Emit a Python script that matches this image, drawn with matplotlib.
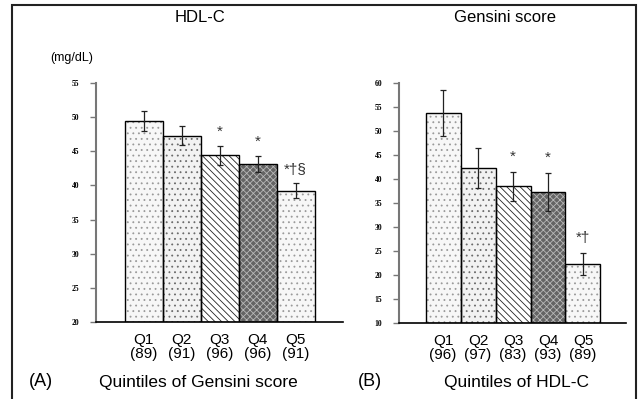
import numpy as np
import matplotlib.pyplot as plt
from matplotlib.patches import Rectangle

plt.rcParams["hatch.linewidth"] = 0.6

quintiles = ["Q1", "Q2", "Q3", "Q4", "Q5"]

# panel A: HDL-C by quintiles of Gensini score
hdl_n = [89, 91, 96, 96, 91]
hdl_mean = [49.4, 47.3, 44.4, 43.1, 39.2]
hdl_err = [1.5, 1.4, 1.4, 1.2, 1.1]
hdl_marks = ["", "", "*", "*", "*†§"]

# panel B: Gensini score by quintiles of HDL-C
gen_n = [96, 97, 83, 93, 89]
gen_mean = [53.8, 42.3, 38.5, 37.3, 22.3]
gen_err = [4.8, 4.2, 3.0, 3.9, 2.3]
gen_marks = ["", "", "*", "*", "*†"]

faces = ["#f7f7f7", "#f2f2f2", "#ffffff", "#646464", "#f7f7f7"]
hatches = ["...", "...", "\\\\\\\\\\", "xxxxx", "..."]
hatch_cols = ["#9a9a9a", "#6a6a6a", "#222222", "#b8b8b8", "#9a9a9a"]

FONT = "Liberation Sans"


def draw_panel(ax, means, errs, ns, marks, ylim, yticks, mark_off):
    x = np.arange(len(means))
    for i in range(len(means)):
        ax.bar(x[i], means[i] - ylim[0], bottom=ylim[0], width=1.0,
               color=faces[i], hatch=hatches[i], edgecolor=hatch_cols[i],
               linewidth=0, zorder=2)
    ax.bar(x, np.array(means) - ylim[0], bottom=ylim[0], width=1.0,
           fill=False, edgecolor="black", linewidth=1.0, zorder=3)
    ax.errorbar(x, means, yerr=errs, fmt="none", ecolor="#222222",
                elinewidth=0.9, capsize=2.5, capthick=0.9, zorder=4)
    for i, m in enumerate(marks):
        if m:
            ax.text(x[i], means[i] + errs[i] + mark_off, m, ha="center",
                    va="bottom", fontsize=11, family=[FONT, "DejaVu Sans"],
                    color="#333333")

    ax.set_ylim(*ylim)
    ax.set_yticks(yticks)
    ax.set_yticklabels([str(t) for t in yticks], fontsize=5.5,
                       family="Liberation Serif", fontweight="bold")
    ax.set_xticks(x)
    ax.set_xticklabels([f"{q}\n({n})" for q, n in zip(quintiles, ns)],
                       fontsize=11, family=FONT, linespacing=1.0)
    ax.tick_params(axis="x", length=0, pad=8)
    ax.tick_params(axis="y", length=4, width=1, color="#777777", pad=8)
    ax.spines["top"].set_visible(False)
    ax.spines["right"].set_visible(False)
    ax.spines["left"].set_color("#777777")
    ax.spines["left"].set_linewidth(1.5)
    ax.spines["bottom"].set_linewidth(1.2)


fig = plt.figure(figsize=(6.4, 3.99), dpi=100)

ax1 = fig.add_axes([96 / 640, 1 - 322 / 399, 247 / 640, 239 / 399])
draw_panel(ax1, hdl_mean, hdl_err, hdl_n, hdl_marks, (20, 55),
           list(range(20, 56, 5)), 1.0)
ax1.set_xlim(-1.25, 5.25)

ax2 = fig.add_axes([399 / 640, 1 - 323 / 399, 227 / 640, 240 / 399])
draw_panel(ax2, gen_mean, gen_err, gen_n, gen_marks, (10, 60),
           list(range(10, 61, 5)), 1.7)
ax2.set_xlim(-1.26, 5.23)

# titles, unit and axis captions
fig.text(200 / 640, 1 - 18 / 399, "HDL-C", ha="center", va="center",
         fontsize=12, family=FONT)
fig.text(505 / 640, 1 - 18 / 399, "Gensini score", ha="center", va="center",
         fontsize=12, family=FONT)
fig.text(72 / 640, 1 - 58 / 399, "(mg/dL)", ha="center", va="center",
         fontsize=9, family=FONT)
fig.text(41 / 640, 1 - 382 / 399, "(A)", ha="center", va="center",
         fontsize=13, family=FONT)
fig.text(198 / 640, 1 - 382 / 399, "Quintiles of Gensini score", ha="center",
         va="center", fontsize=12.5, family=FONT)
fig.text(370 / 640, 1 - 381 / 399, "(B)", ha="center", va="center",
         fontsize=13, family=FONT)
fig.text(516 / 640, 1 - 382 / 399, "Quintiles of HDL-C", ha="center",
         va="center", fontsize=12.5, family=FONT)

# outer frame
fig.patches.append(Rectangle((12 / 640, -0.02), 624 / 640, 1 - 5 / 399 + 0.02,
                             transform=fig.transFigure, fill=False,
                             edgecolor="#222222", linewidth=1.5))

fig.savefig("out.png", dpi=100)
